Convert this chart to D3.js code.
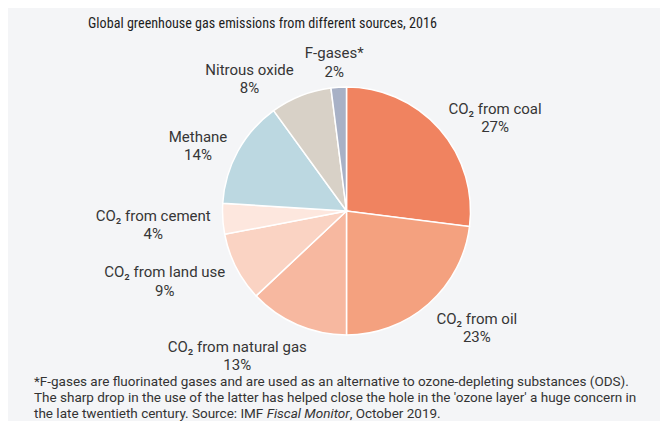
<!DOCTYPE html>
<html>
<head>
<meta charset="utf-8">
<script src="https://cdn.jsdelivr.net/npm/d3@7"></script>
<style>
  body { margin: 0; background: #fff; }
  text { font-family: Roboto, "Open Sans", sans-serif; }
</style>
</head>
<body>
<div id="chart"></div>
<script>
// emission sources, clockwise from 12 o'clock
var sources = ["CO₂ from coal", "CO₂ from oil", "CO₂ from natural gas", "CO₂ from land use",
               "CO₂ from cement", "Methane", "Nitrous oxide", "F-gases*"];
var shares = [27, 23, 13, 9, 4, 14, 8, 2];
var colors = ["#f08360", "#f4a17f", "#f7b8a0", "#fad3c3", "#fde7de", "#bcd8e1", "#d8d1c7", "#a8b1c6"];
var footnote = [
  [{t: "*F-gases are fluorinated gases and are used as an alternative to ozone-depleting substances (ODS)."}],
  [{t: "The sharp drop in the use of the latter has helped close the hole in the 'ozone layer' a huge concern in"}],
  [{t: "the late twentieth century. Source: IMF "}, {t: "Fiscal Monitor", i: true}, {t: ", October 2019."}]
];

var width = 663, height = 421;
var cx = 346.5, cy = 211, r = 124;

var svg = d3.select("#chart").append("svg").attr("width", width).attr("height", height);

svg.append("rect").attr("x", 8).attr("y", 8).attr("width", 652).attr("height", 420).attr("fill", "#f4f5f7");

svg.append("text")
  .attr("x", 88).attr("y", 28)
  .style("font-family", "'Roboto Condensed', 'Liberation Sans Narrow', 'DejaVu Sans Condensed', sans-serif")
  .attr("font-size", 15.5).attr("font-weight", 400)
  .attr("textLength", 349).attr("lengthAdjust", "spacingAndGlyphs")
  .attr("fill", "#1e1e1e")
  .text("Global greenhouse gas emissions from different sources, 2016");

var data = sources.map(function(s, i) { return {name: s, value: shares[i], color: colors[i]}; });

var pie = d3.pie().sort(null).value(function(d) { return d.value; });
var arc = d3.arc().innerRadius(0).outerRadius(r);
var arcs = pie(data);

var g = svg.append("g").attr("transform", "translate(" + cx + "," + cy + ")");

g.selectAll(".slice")
  .data(arcs)
  .enter().append("path")
  .attr("class", "slice")
  .attr("d", arc)
  .attr("fill", function(d) { return d.data.color; })
  .attr("stroke", "#fff")
  .attr("stroke-width", 1.5);

// labels: two lines, name and percent
var labels = g.selectAll(".lab")
  .data(arcs)
  .enter().append("text")
  .attr("class", "lab")
  .attr("text-anchor", "middle")
  .attr("font-size", 15)
  .attr("fill", "#363636");

labels.each(function(d) {
  var t = d3.select(this);
  t.append("tspan").attr("x", 0).attr("y", 1).text(d.data.name);
  t.append("tspan").attr("x", 0).attr("y", 19.2).text(d.data.value + "%");
  d.w = this.getBBox().width;
  d.h = 36;
  d.ang = (d.startAngle + d.endAngle) / 2;
});

var pad = 12;
function place(d) {
  var s = Math.sin(d.ang), c = Math.cos(d.ang);
  d.lx = s * (r + pad) + Math.sign(s) * Math.min(1, 2 * Math.abs(s)) * d.w / 2;
  d.ly = -c * (r + pad) - c * Math.abs(c) * d.h / 2;
}
arcs.forEach(place);

function overlap(a, b) {
  return Math.abs(a.lx - b.lx) < (a.w + b.w) / 2 + 10 && Math.abs(a.ly - b.ly) < (a.h + b.h) / 2;
}
// walk back counter-clockwise, nudging labels that collide with the next one
for (var i = arcs.length - 2; i >= 0; i--) {
  var guard = 0;
  while (overlap(arcs[i], arcs[i + 1]) && guard < 90) {
    arcs[i].ang -= Math.PI / 180;
    place(arcs[i]);
    guard++;
  }
}

labels.attr("transform", function(d) { return "translate(" + d.lx + "," + d.ly + ")"; });

var foot = svg.append("g").attr("font-size", 13.5).attr("fill", "#333");
footnote.forEach(function(line, i) {
  var t = foot.append("text").attr("x", 34).attr("y", 386 + i * 15.8);
  line.forEach(function(p) {
    t.append("tspan").attr("font-style", p.i ? "italic" : null).text(p.t);
  });
});
</script>
</body>
</html>
